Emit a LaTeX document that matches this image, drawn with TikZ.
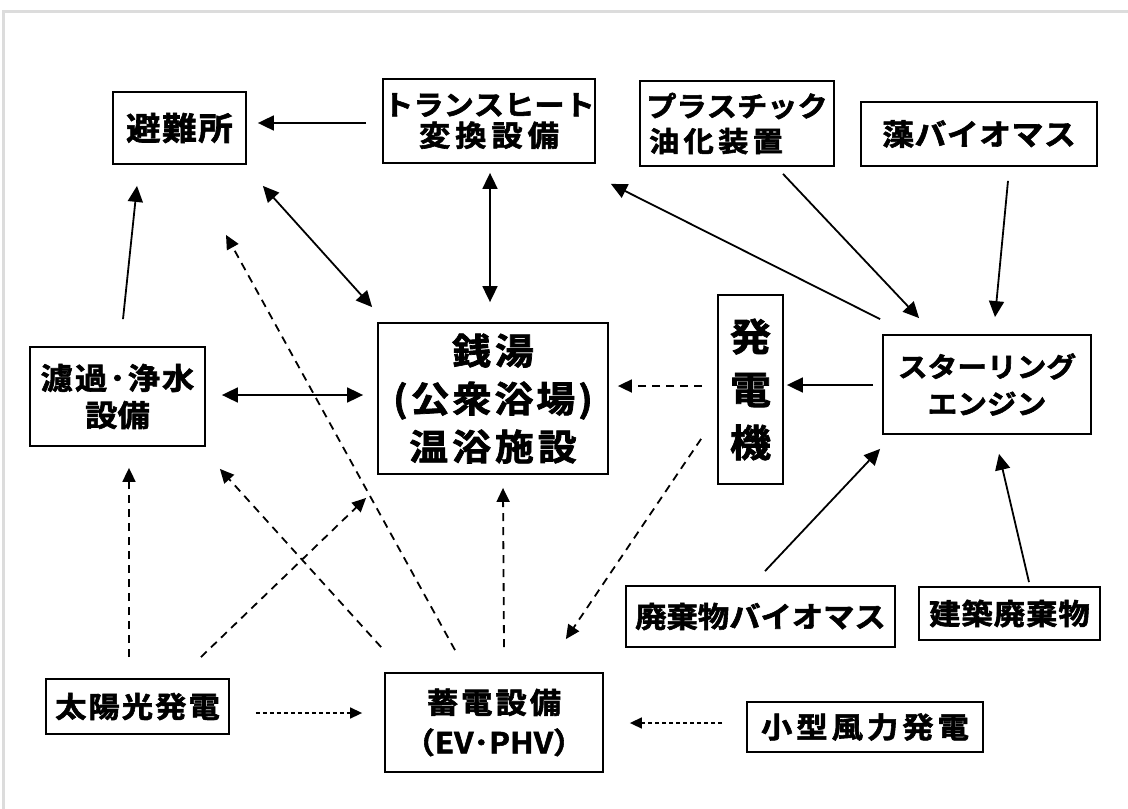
\documentclass[tikz,border=0pt]{standalone}
\usepackage{fontspec}
\usetikzlibrary{arrows.meta,calc}
\newfontfamily\jp{Noto Sans CJK JP Bold}[FakeStretch=1.08,FakeBold=2]
\definecolor{framegray}{RGB}{220,220,220}
\makeatletter
\newcommand{\jsp}[2]{\def\jspgap{#1}\jsp@first#2\relax}
\def\jsp@first#1{#1\jsp@next}
\def\jsp@next#1{\ifx#1\relax\else\hspace{\jspgap}#1\expandafter\jsp@next\fi}
\makeatother
\newcommand{\jl}[3]{\makebox[0pt]{\fontsize{#1}{#1}\selectfont\jsp{#2}{#3}}}
\tikzset{
  jbox/.style={draw, line width=1.8pt, inner sep=0pt, align=center},
  arr/.style={line width=1.8pt, -{Triangle[length=16pt,width=15pt]}},
  dbl/.style={line width=1.8pt, {Triangle[length=16pt,width=15pt]}-{Triangle[length=16pt,width=15pt]}},
  darr/.style={line width=1.8pt, dash pattern=on 8pt off 6pt, -{Triangle[length=14pt,width=13pt]}},
  sdarr/.style={line width=1.5pt, dash pattern=on 4pt off 3pt, -{Triangle[length=12pt,width=11pt]}},
}
\begin{document}
\begin{tikzpicture}[x=1pt,y=-1pt]
\useasboundingbox (0,0) rectangle (1128,809);
\draw[framegray, line width=3pt] (3.7,809) -- (3.7,11) -- (1128,11);

\node[jbox, minimum width=133pt, minimum height=72pt, font=\jp\fontsize{31}{36}\selectfont] (hinan) at (179.5,128) {\jl{32}{1.5pt}{避難所}};
\node[jbox, minimum width=212pt, minimum height=84pt, font=\jp\fontsize{29}{31}\selectfont] (trans) at (489,121) {\jl{28}{0pt}{トランスヒート}\\\jl{29}{4.9pt}{変換設備}};
\node[jbox, minimum width=194pt, minimum height=85pt, font=\jp\fontsize{28}{35}\selectfont] (plast) at (737,123.5) {\jl{28}{0pt}{プラスチック}\\\hspace*{-42pt}\jl{28}{4.3pt}{油化装置}};
\node[jbox, minimum width=236pt, minimum height=64pt, font=\jp\fontsize{29.5}{34}\selectfont] (mo) at (979,134) {\jl{29.5}{0.5pt}{藻バイオマス}};
\node[jbox, minimum width=175pt, minimum height=99pt, font=\jp\fontsize{30}{37}\selectfont] (roka) at (117.5,396.5) {\jl{30}{2pt}{濾過･浄水}\\\jl{30}{0pt}{設備}};
\node[jbox, minimum width=230pt, minimum height=151pt, font=\jp\fontsize{36}{48}\selectfont] (sento) at (493,398.5) {\raisebox{-3pt}{\jl{36}{4pt}{銭湯}}\\\raisebox{-3pt}{\jl{36}{3pt}{(公衆浴場)}}\\\raisebox{-3pt}{\jl{36}{4pt}{温浴施設}}};
\node[jbox, minimum width=65pt, minimum height=189pt, font=\jp\fontsize{37}{53}\selectfont] (gen) at (750.5,389.5) {\jl{38}{0pt}{発}\\\jl{38}{0pt}{電}\\\jl{38}{0pt}{機}};
\node[jbox, minimum width=208pt, minimum height=99pt, font=\jp\fontsize{27}{37}\selectfont] (stir) at (987,384.5) {\jl{27.5}{0pt}{スターリング}\\\jl{27.5}{0pt}{エンジン}};
\node[jbox, minimum width=269pt, minimum height=61pt, font=\jp\fontsize{29}{34}\selectfont] (haiki) at (760.5,616.5) {\jl{29}{0pt}{廃棄物バイオマス}};
\node[jbox, minimum width=181pt, minimum height=53pt, font=\jp\fontsize{29}{34}\selectfont] (kenchiku) at (1009.5,613.5) {\jl{29}{1pt}{建築廃棄物}};
\node[jbox, minimum width=183pt, minimum height=55pt, font=\jp\fontsize{29}{34}\selectfont] (taiyo) at (137.5,706.5) {\jl{29}{2pt}{太陽光発電}};
\node[jbox, minimum width=218pt, minimum height=99pt, font=\jp\fontsize{29}{40}\selectfont] (chiku) at (494,722.5) {\jl{29}{3pt}{蓄電設備}\\\jl{29}{0pt}{（EV･PHV）}};
\node[jbox, minimum width=236pt, minimum height=50pt, font=\jp\fontsize{29}{34}\selectfont] (kogata) at (865,727) {\jl{29}{4pt}{小型風力発電}};

\draw[arr] ($(trans.west)+(-16,2)$) -- ($(hinan.east)+(11,-5)$);
\draw[dbl] ($(hinan.south east)+(16,21)$) -- ($(sento.north west)+(-5,-15)$);
\draw[dbl] ($(trans.south)+(1,9)$) -- ($(sento.north)+(-3,-20)$);
\draw[arr] ($(roka.north)+(5.5,-27)$) -- ($(hinan.south)+(-42.5,21)$);
\draw[arr] ($(stir.north west)+(-2,-15)$) -- ($(trans.south east)+(15,20)$);
\draw[arr] ($(plast.south)+(46,7)$) -- ($(stir.north west)+(37,-16)$);
\draw[arr] ($(mo.south)+(29,14)$) -- ($(stir.north)+(8,-17)$);
\draw[dbl] ($(roka.east)+(16,-1.5)$) -- ($(sento.west)+(-14,-3.5)$);
\draw[darr] ($(gen.west)+(-15,-3.5)$) -- ($(sento.east)+(9,-12.5)$);
\draw[arr] ($(stir.west)+(-9,0.5)$) -- ($(gen.east)+(3,-4.5)$);
\draw[darr] ($(gen.south west)+(-16,-46)$) -- ($(chiku.north east)+(-38,-33)$);
\draw[arr] ($(haiki.north)+(4.5,-14)$) -- ($(stir.south west)+(-2,14)$);
\draw[arr] ($(kenchiku.north)+(19.5,-4)$) -- ($(stir.south)+(12,19)$);
\draw[darr] ($(taiyo.north)+(-8.5,-21)$) -- ($(roka.south)+(11.5,21)$);
\draw[darr] ($(taiyo.north east)+(-29,-21)$) -- ($(sento.south west)+(-11,23)$);
\draw[darr] ($(chiku.north west)+(-3,-25)$) -- ($(roka.south east)+(14,22)$);
\draw[darr] ($(chiku.north)+(-39,-22)$) -- ($(hinan.south)+(46.5,70)$);
\draw[darr] ($(chiku.north)+(10,-25)$) -- ($(sento.south)+(10,13)$);
\draw[sdarr] ($(taiyo.east)+(26,6.5)$) -- ($(chiku.west)+(-22,-9.5)$);
\draw[sdarr] ($(kogata.west)+(-24,-4)$) -- ($(chiku.east)+(26,0.5)$);
\end{tikzpicture}
\end{document}
